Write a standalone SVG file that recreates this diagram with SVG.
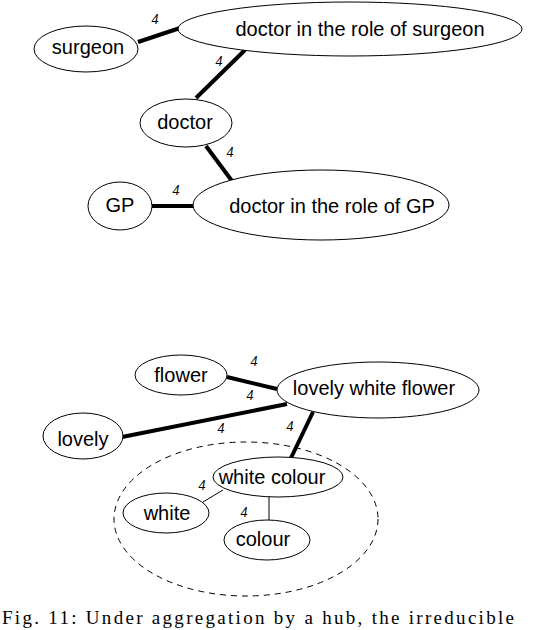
<svg xmlns="http://www.w3.org/2000/svg" width="540" height="630" viewBox="0 0 540 630">
<style>
.n{fill:#fff;stroke:#000;stroke-width:1}
.t{font-family:"Liberation Sans",Arial,sans-serif;font-size:20px;text-anchor:middle;fill:#000}
.w{font-family:"Liberation Serif","Times New Roman",serif;font-style:italic;font-size:14px;text-anchor:middle;fill:#000}
.thick{stroke:#000;stroke-width:4;fill:none}
.thin{stroke:#000;stroke-width:1;fill:none}
</style>
<rect width="540" height="630" fill="#fff"/>
<ellipse cx="246" cy="519" rx="132" ry="77" fill="none" stroke="#000" stroke-width="1" stroke-dasharray="6,5"/>
<g id="connectors">
<line class="thick" x1="138" y1="42" x2="180" y2="28"/>
<line class="thick" x1="196" y1="98" x2="245" y2="50"/>
<line class="thick" x1="206" y1="146" x2="232" y2="181"/>
<line class="thick" x1="152" y1="206" x2="195" y2="206"/>
<line class="thick" x1="227" y1="377" x2="277" y2="389"/>
<line class="thick" x1="122" y1="437" x2="287" y2="404"/>
<line class="thick" x1="313" y1="412" x2="290" y2="460"/>
<line class="thin" x1="223" y1="490" x2="203" y2="502"/>
<line class="thin" x1="269" y1="497" x2="269" y2="521"/>
<text class="w" x="155" y="24">4</text>
<text class="w" x="219" y="66">4</text>
<text class="w" x="230" y="157">4</text>
<text class="w" x="176" y="195">4</text>
<text class="w" x="254" y="366">4</text>
<text class="w" x="250" y="400">4</text>
<text class="w" x="221" y="433">4</text>
<text class="w" x="290" y="431">4</text>
<text class="w" x="202" y="490">4</text>
<text class="w" x="244" y="517">4</text>
</g>
<g id="surgeon"><ellipse class="n" cx="86" cy="49" rx="52" ry="23"/><text class="t" x="88" y="54">surgeon</text></g>
<g id="role-surgeon"><ellipse class="n" cx="350" cy="29" rx="172" ry="27"/><text class="t" x="360" y="36">doctor in the role of surgeon</text></g>
<g id="doctor"><ellipse class="n" cx="186" cy="123" rx="46" ry="24"/><text class="t" x="185" y="129">doctor</text></g>
<g id="gp"><ellipse class="n" cx="120" cy="206" rx="32" ry="24"/><text class="t" x="120" y="212">GP</text></g>
<g id="role-gp"><ellipse class="n" cx="321" cy="205" rx="128" ry="35"/><text class="t" x="332" y="213">doctor in the role of GP</text></g>
<g id="flower"><ellipse class="n" cx="181" cy="375" rx="46" ry="20"/><text class="t" x="181" y="382">flower</text></g>
<g id="lovely-white-flower"><ellipse class="n" cx="378" cy="390" rx="101" ry="28"/><text class="t" x="374" y="395">lovely white flower</text></g>
<g id="lovely"><ellipse class="n" cx="83" cy="436" rx="40" ry="23"/><text class="t" x="83" y="446">lovely</text></g>
<g id="white-colour"><ellipse class="n" cx="278" cy="477" rx="65" ry="20"/><text class="t" x="272" y="484">white colour</text></g>
<g id="white"><ellipse class="n" cx="166" cy="513" rx="43" ry="20"/><text class="t" x="167" y="520">white</text></g>
<g id="colour"><ellipse class="n" cx="267" cy="540" rx="43" ry="20"/><text class="t" x="263" y="546">colour</text></g>
<text x="2" y="624" font-family="'Liberation Serif','Times New Roman',serif" font-size="19" textLength="512" fill="#000">Fig. 11: Under aggregation by a hub, the irreducible</text>
</svg>
